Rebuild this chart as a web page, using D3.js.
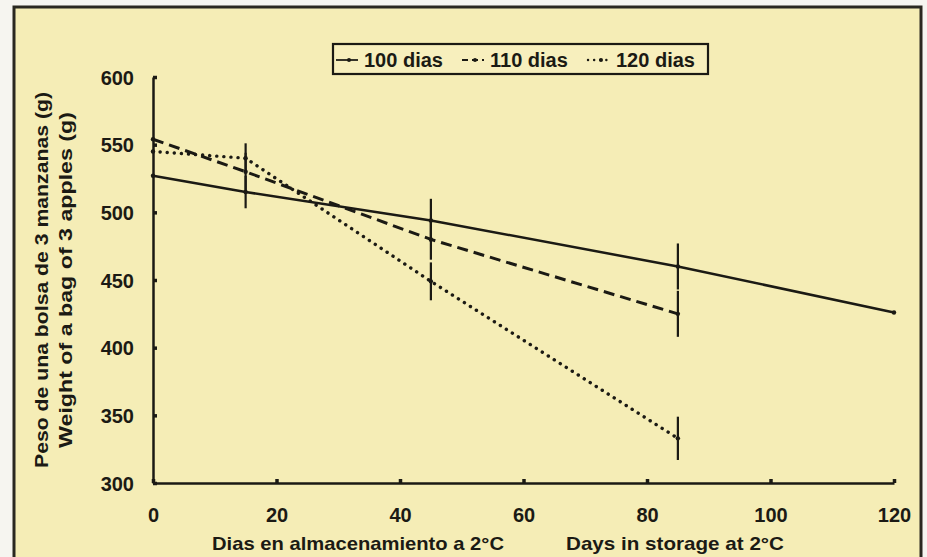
<!DOCTYPE html>
<html>
<head>
<meta charset="utf-8">
<script src="https://cdn.jsdelivr.net/npm/d3@7/dist/d3.min.js"></script>
<style>
  html, body { margin: 0; padding: 0; background: #f6f5f0; }
  svg { display: block; }
  text { font-family: "Liberation Sans", Arial, sans-serif; font-weight: bold; fill: #1b1a14; }
</style>
</head>
<body>
<svg id="chart" width="927" height="557"></svg>
<script>
// Storage days and mean weight (g) of a bag of 3 apples, per harvest age
const days100 = [0, 15, 45, 85, 120];
const weight100 = [527, 515, 494, 460, 426];
const err100 = [0, 12, 16, 17, 0];

const days110 = [0, 15, 45, 85];
const weight110 = [554, 530, 480, 425];
const err110 = [0, 14, 15, 17];

const days120 = [0, 15, 45, 85];
const weight120 = [545, 540, 449, 333];
const err120 = [0, 11, 14, 16];

const seriesNames = ["100 dias", "110 dias", "120 dias"];
const xTicks = [0, 20, 40, 60, 80, 100, 120];
const yTicks = [300, 350, 400, 450, 500, 550, 600];

const xTitleEs = "Dias en almacenamiento a 2°C";
const xTitleEn = "Days in storage at 2°C";
const yTitleEs = "Peso de una bolsa  de 3 manzanas (g)";
const yTitleEn = "Weight of a bag of 3 apples (g)";

const ink = "#1b1a14";
const svg = d3.select("#chart");

// Paper panel with dark frame
svg.append("rect").attr("x", 0).attr("y", 0).attr("width", 927).attr("height", 557).attr("fill", "#f6f5f0");
svg.append("rect").attr("x", 14).attr("y", 7).attr("width", 907).attr("height", 570)
  .attr("fill", "#f5edb6").attr("stroke", "#2a2820").attr("stroke-width", 3);

const x = d3.scaleLinear().domain([0, 120]).range([153, 894]);
const y = d3.scaleLinear().domain([300, 600]).range([483, 77]);

// Axes
const gx = svg.append("g").attr("transform", `translate(0,${y(300)})`)
  .call(d3.axisBottom(x).tickValues(xTicks).tickSize(-4).tickSizeOuter(0).tickPadding(25));
const gy = svg.append("g").attr("transform", `translate(${x(0)},0)`)
  .call(d3.axisLeft(y).tickValues(yTicks).tickSize(-4).tickSizeOuter(0).tickPadding(19));
[gx, gy].forEach(g => {
  g.select(".domain").attr("stroke", ink).attr("stroke-width", 2.5);
  g.selectAll(".tick line").attr("stroke", ink).attr("stroke-width", 3.5);
  g.selectAll(".tick text").attr("font-size", 20).attr("font-family", null).style("fill", ink);
});
gy.selectAll(".tick text").attr("dy", "0.35em");

// Series definitions
const series = [
  { name: seriesNames[0], days: days100, w: weight100, e: err100, dash: null, width: 2.5, cap: "butt" },
  { name: seriesNames[1], days: days110, w: weight110, e: err110, dash: "11,6", width: 3, cap: "butt" },
  { name: seriesNames[2], days: days120, w: weight120, e: err120, dash: "0.1,7", width: 3.4, cap: "round" }
];

const line = d3.line().x(d => x(d.d)).y(d => y(d.v));

series.forEach(s => {
  const pts = s.days.map((d, i) => ({ d, v: s.w[i], e: s.e[i] }));
  // error bars
  svg.append("g").selectAll("line").data(pts.filter(p => p.e > 0)).join("line")
    .attr("x1", p => x(p.d)).attr("x2", p => x(p.d))
    .attr("y1", p => y(p.v - p.e)).attr("y2", p => y(p.v + p.e))
    .attr("stroke", ink).attr("stroke-width", 2.2);
  // line
  svg.append("path").datum(pts).attr("d", line)
    .attr("fill", "none").attr("stroke", ink).attr("stroke-width", s.width)
    .attr("stroke-dasharray", s.dash).attr("stroke-linecap", s.cap);
  // point markers
  svg.append("g").selectAll("circle").data(pts).join("circle")
    .attr("cx", p => x(p.d)).attr("cy", p => y(p.v)).attr("r", 2.2).attr("fill", ink);
});

// Legend
const lg = svg.append("g");
lg.append("rect").attr("x", 333).attr("y", 44).attr("width", 375).attr("height", 30)
  .attr("fill", "#f7efbd").attr("stroke", ink).attr("stroke-width", 2.2);
const legendX = [336, 462, 588];
series.forEach((s, i) => {
  const x0 = legendX[i];
  lg.append("line").attr("x1", x0).attr("x2", x0 + 22).attr("y1", 60).attr("y2", 60)
    .attr("stroke", ink).attr("stroke-width", s.width * 0.7)
    .attr("stroke-dasharray", s.dash ? (i === 1 ? "6,4" : "0.1,6") : null)
    .attr("stroke-linecap", s.cap);
  lg.append("circle").attr("cx", x0 + 13).attr("cy", 60).attr("r", 2).attr("fill", ink);
  lg.append("text").attr("x", x0 + 28).attr("y", 67).attr("font-size", 20).text(s.name);
});

// Axis titles
svg.append("text").attr("x", 212).attr("y", 550).attr("font-size", 19)
  .attr("textLength", 292).attr("lengthAdjust", "spacingAndGlyphs").text(xTitleEs);
svg.append("text").attr("x", 566).attr("y", 550).attr("font-size", 19)
  .attr("textLength", 218).attr("lengthAdjust", "spacingAndGlyphs").text(xTitleEn);
const yMid = (y(300) + y(600)) / 2;
svg.append("text").attr("transform", `translate(48,${yMid}) rotate(-90)`)
  .attr("text-anchor", "middle").attr("font-size", 19)
  .attr("textLength", 376).attr("lengthAdjust", "spacingAndGlyphs").text(yTitleEs);
svg.append("text").attr("transform", `translate(72,${yMid}) rotate(-90)`)
  .attr("text-anchor", "middle").attr("font-size", 19)
  .attr("textLength", 336).attr("lengthAdjust", "spacingAndGlyphs").text(yTitleEn);
</script>
</body>
</html>
